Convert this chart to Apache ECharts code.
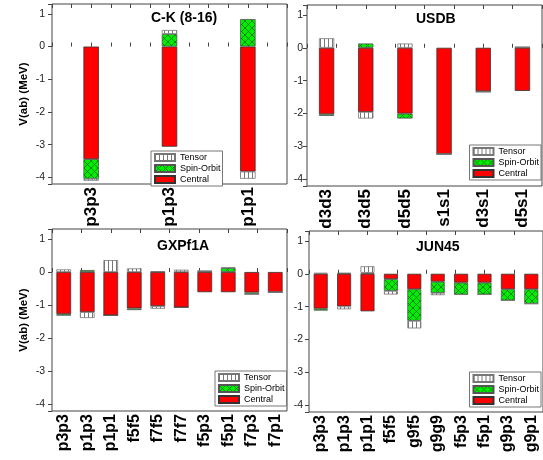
<!DOCTYPE html>
<html><head><meta charset="utf-8">
<script src="https://cdn.jsdelivr.net/npm/echarts@6/dist/echarts.min.js"></script>
<style>html,body{margin:0;padding:0;background:#fff}#c{width:543px;height:460px}</style>
</head><body><div id="c"></div><script>
// ---- data ----
const ckCats = ['p3p3','p1p3','p1p1'];
const ckCentral = [-3.44,-3.06,-3.82];
const ckSO = [-0.60,0.385,0.84];
const ckTensor = [-0.06,0.12,-0.22];

const usdbCats = ['d3d3','d3d5','d5d5','s1s1','d3s1','d5s1'];
const usdbCentral = [-2.02,-1.95,-2.00,-3.23,-1.32,-1.31];
const usdbSO = [-0.05,0.13,-0.15,0,-0.02,0.02];
const usdbTensor = [0.29,-0.20,0.13,0,0,0];

const gxCats = ['p3p3','p1p3','p1p1','f5f5','f7f5','f7f7','f5p3','f5p1','f7p3','f7p1'];
const gxCentral = [-1.27,-1.21,-1.31,-1.10,-1.03,-1.07,-0.61,-0.61,-0.62,-0.61];
const gxSO = [-0.05,0.06,0,-0.05,0.01,0,0.03,0.12,-0.05,0];
const gxTensor = [0.08,-0.18,0.36,0.11,-0.08,0.07,0,0.02,0,0];

const junCats = ['p3p3','p1p3','p1p1','f5f5','g9f5','g9g9','f5p3','f5p1','g9p3','g9p1'];
const junCentral = [-1.06,-0.99,-1.14,-0.16,-0.47,-0.24,-0.27,-0.27,-0.47,-0.47];
const junSO = [-0.06,0.03,0.03,-0.36,-0.96,-0.34,-0.36,-0.36,-0.34,-0.44];
const junTensor = [0.03,-0.09,0.20,-0.11,-0.23,-0.07,0,0,0,0];

const titles = ['C-K (8-16)','USDB','GXPf1A','JUN45'];
const legendNames = ['Tensor','Spin-Orbit','Central'];
const yName = 'V(ab) (MeV)';
const yMin = -4.2, yMax = 1.3;

// ---- styling / layout ----
const FONT = '"Liberation Sans", Arial, sans-serif';
function makePattern(w,h,draw){const c=document.createElement('canvas');c.width=w;c.height=h;draw(c.getContext('2d'),w,h);return {image:c,repeat:'repeat'};}
const tensorFill = makePattern(4,4,(x,w,h)=>{x.fillStyle='#fff';x.fillRect(0,0,w,h);x.fillStyle='#777';x.fillRect(0,0,1,h);});
const soFill = makePattern(7,7,(x,w,h)=>{x.fillStyle='#00ee00';x.fillRect(0,0,w,h);x.strokeStyle='#0b6b0b';x.lineWidth=0.8;x.beginPath();x.moveTo(0,0);x.lineTo(w,h);x.moveTo(w,0);x.lineTo(0,h);x.stroke();});

const panels = [
  {cats:ckCats,c:ckCentral,so:ckSO,t:ckTensor,g:[52,4,235,180],bw:15.5,lf:17,tm:12,lm:7,yname:true,tp:[151,11],lg:{left:151,top:151}},
  {cats:usdbCats,c:usdbCentral,so:usdbSO,t:usdbTensor,g:[307,5,235,181],bw:15.3,lf:17,tm:8,lm:4,yname:false,tp:[416,12],lg:{right:2,top:145}},
  {cats:gxCats,c:gxCentral,so:gxSO,t:gxTensor,g:[52,229,235,182],bw:14.7,lf:16,tm:8,lm:7,yname:true,tp:[157,239],lg:{left:215,top:371}},
  {cats:junCats,c:junCentral,so:junSO,t:junTensor,g:[309,231,235,181],bw:14,lf:16,tm:8,lm:6,yname:false,tp:[416,240],lg:{right:2,top:372}}
];

const grid=[],xAxis=[],yAxis=[],series=[],title=[],legend=[];
const tickStyle={color:'#444',width:1};
panels.forEach((p,i)=>{
  grid.push({left:p.g[0],top:p.g[1],width:p.g[2],height:p.g[3],show:true,borderColor:'#444',borderWidth:1,backgroundColor:'transparent'});
  const cx=xAxis.length;
  xAxis.push({type:'category',gridIndex:i,data:p.cats,position:'bottom',axisLine:{show:false},axisTick:{show:false},splitLine:{show:false},
    axisLabel:{rotate:90,interval:0,margin:3,fontSize:p.lf,fontWeight:'bold',color:'#000',fontFamily:FONT}});
  ['bottom','top'].forEach(pos=>xAxis.push({type:'value',gridIndex:i,position:pos,min:0,max:p.tm,interval:1,
    axisLine:{show:false},axisLabel:{show:false},splitLine:{show:false},axisTick:{show:true,inside:true,length:4,lineStyle:tickStyle}}));
  const cy=yAxis.length;
  yAxis.push({type:'value',gridIndex:i,position:'left',min:yMin,max:yMax,splitNumber:5,axisLine:{show:false},splitLine:{show:false},
    axisTick:{show:true,inside:false,length:4,lineStyle:tickStyle},
    axisLabel:{fontSize:10.5,color:'#222',fontFamily:FONT,margin:p.lm,showMinLabel:false,showMaxLabel:false,
      formatter:v=>Math.abs(v-Math.round(v))<1e-6?String(Math.round(v)):''},
    name:p.yname?yName:'',nameLocation:'middle',nameGap:22,nameRotate:90,
    nameTextStyle:{fontSize:11.5,fontWeight:'bold',color:'#000',fontFamily:FONT}});
  yAxis.push({type:'value',gridIndex:i,position:'right',min:yMin,max:yMax,splitNumber:5,axisLine:{show:false},splitLine:{show:false},
    axisTick:{show:true,inside:true,length:4,lineStyle:tickStyle},axisLabel:{show:false}});
  [['Central',p.c,{color:'#ff0000',borderColor:'#333',borderWidth:0.8}],
   ['Spin-Orbit',p.so,{color:soFill,borderColor:'#555',borderWidth:0.8}],
   ['Tensor',p.t,{color:tensorFill,borderColor:'#777',borderWidth:0.8}]].forEach(([name,data,st])=>{
    series.push({type:'bar',name,data,xAxisIndex:cx,yAxisIndex:cy,stack:'s'+i,barWidth:p.bw,itemStyle:st,emphasis:{disabled:true}});
  });
  title.push({text:titles[i],left:p.tp[0],top:p.tp[1],padding:0,textStyle:{fontSize:14,fontWeight:'bold',color:'#000',fontFamily:FONT}});
  legend.push(Object.assign({orient:'vertical',data:legendNames,icon:'rect',itemWidth:20,itemHeight:7,itemGap:0,
    padding:[1,2,1,3],backgroundColor:'#fff',borderColor:'#777',borderWidth:1,borderRadius:0,selectedMode:false,
    textStyle:{fontSize:9,lineHeight:11,color:'#000',fontFamily:FONT}},p.lg));
});

const chart=echarts.init(document.getElementById('c'),null,{renderer:'canvas'});
chart.setOption({animation:false,textStyle:{fontFamily:FONT},grid,xAxis,yAxis,series,title,legend});
</script></body></html>
